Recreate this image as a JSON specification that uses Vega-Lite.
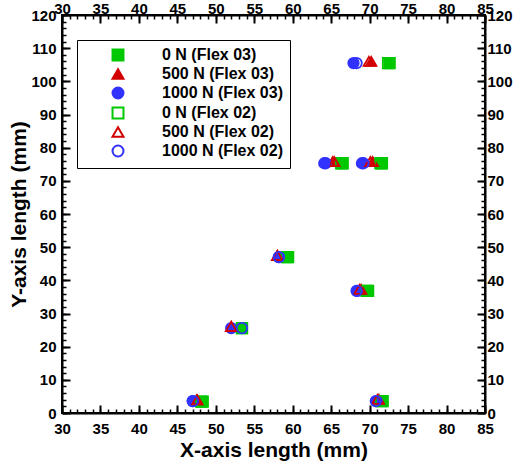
{
  "$schema": "https://vega.github.io/schema/vega-lite/v6.json",
  "width": 423,
  "height": 398,
  "autosize": "none",
  "padding": {"left": 62, "top": 15, "right": 40, "bottom": 55},
  "background": "white",
  "data": {"values": [
    {"s": "0 N (Flex 03)", "x": 72.6, "y": 105.5},
    {"s": "0 N (Flex 03)", "x": 66.5, "y": 75.3},
    {"s": "0 N (Flex 03)", "x": 71.6, "y": 75.3},
    {"s": "0 N (Flex 03)", "x": 59.4, "y": 47.0},
    {"s": "0 N (Flex 03)", "x": 69.8, "y": 36.8},
    {"s": "0 N (Flex 03)", "x": 53.4, "y": 25.6},
    {"s": "0 N (Flex 03)", "x": 48.3, "y": 3.4},
    {"s": "0 N (Flex 03)", "x": 71.7, "y": 3.6},
    {"s": "500 N (Flex 03)", "x": 70.2, "y": 106},
    {"s": "500 N (Flex 03)", "x": 65.2, "y": 75.8},
    {"s": "500 N (Flex 03)", "x": 70.4, "y": 75.8},
    {"s": "500 N (Flex 03)", "x": 58.0, "y": 47.5},
    {"s": "500 N (Flex 03)", "x": 68.9, "y": 37.3},
    {"s": "500 N (Flex 03)", "x": 52.0, "y": 26.1},
    {"s": "500 N (Flex 03)", "x": 47.5, "y": 4.0},
    {"s": "500 N (Flex 03)", "x": 71.2, "y": 4.1},
    {"s": "1000 N (Flex 03)", "x": 67.9, "y": 105.5},
    {"s": "1000 N (Flex 03)", "x": 64.3, "y": 75.3},
    {"s": "1000 N (Flex 03)", "x": 69.0, "y": 75.3},
    {"s": "1000 N (Flex 03)", "x": 58.2, "y": 47.0},
    {"s": "1000 N (Flex 03)", "x": 68.4, "y": 36.8},
    {"s": "1000 N (Flex 03)", "x": 52.0, "y": 25.6},
    {"s": "1000 N (Flex 03)", "x": 47.0, "y": 3.6},
    {"s": "1000 N (Flex 03)", "x": 70.9, "y": 3.6},
    {"s": "0 N (Flex 02)", "x": 72.4, "y": 105.5},
    {"s": "0 N (Flex 02)", "x": 66.3, "y": 75.3},
    {"s": "0 N (Flex 02)", "x": 71.4, "y": 75.3},
    {"s": "0 N (Flex 02)", "x": 59.2, "y": 47.0},
    {"s": "0 N (Flex 02)", "x": 69.6, "y": 36.8},
    {"s": "0 N (Flex 02)", "x": 53.4, "y": 25.6},
    {"s": "0 N (Flex 02)", "x": 48.1, "y": 3.4},
    {"s": "0 N (Flex 02)", "x": 71.5, "y": 3.6},
    {"s": "500 N (Flex 02)", "x": 69.9, "y": 106},
    {"s": "500 N (Flex 02)", "x": 65.4, "y": 75.8},
    {"s": "500 N (Flex 02)", "x": 70.1, "y": 75.8},
    {"s": "500 N (Flex 02)", "x": 58.0, "y": 47.5},
    {"s": "500 N (Flex 02)", "x": 68.7, "y": 37.3},
    {"s": "500 N (Flex 02)", "x": 52.0, "y": 26.1},
    {"s": "500 N (Flex 02)", "x": 47.6, "y": 4.0},
    {"s": "500 N (Flex 02)", "x": 71.0, "y": 4.1},
    {"s": "1000 N (Flex 02)", "x": 68.3, "y": 105.5},
    {"s": "1000 N (Flex 02)", "x": 64.1, "y": 75.3},
    {"s": "1000 N (Flex 02)", "x": 69.2, "y": 75.3},
    {"s": "1000 N (Flex 02)", "x": 58.2, "y": 47.0},
    {"s": "1000 N (Flex 02)", "x": 68.3, "y": 36.8},
    {"s": "1000 N (Flex 02)", "x": 53.4, "y": 25.6},
    {"s": "1000 N (Flex 02)", "x": 47.0, "y": 3.6},
    {"s": "1000 N (Flex 02)", "x": 70.8, "y": 3.6}
  ]},
  "layer": [
    {
      "mark": {"type": "point", "strokeWidth": 1.8, "opacity": 1},
      "encoding": {
        "x": {"field": "x", "type": "quantitative", "scale": {"domain": [30, 85], "nice": false, "zero": false},
              "axis": {"orient": "bottom", "values": [30,35,40,45,50,55,60,65,70,75,80,85], "tickSize": -8, "tickWidth": 2, "labelPadding": 16, "title": "X-axis length (mm)", "titlePadding": 3}},
        "y": {"field": "y", "type": "quantitative", "scale": {"domain": [0, 120], "nice": false, "zero": false},
              "axis": {"orient": "left", "values": [0,10,20,30,40,50,60,70,80,90,100,110,120], "tickSize": -8, "tickWidth": 2, "labelPadding": 14, "title": "Y-axis length (mm)", "titlePadding": 1}},
        "fill": {"field": "s", "type": "nominal", "sort": null,
                 "scale": {"domain": ["0 N (Flex 03)", "500 N (Flex 03)", "1000 N (Flex 03)", "0 N (Flex 02)", "500 N (Flex 02)", "1000 N (Flex 02)"],
                           "range": ["#00c800", "#d20000", "#3232ff", "transparent", "transparent", "transparent"]},
                 "legend": {"title": null, "orient": "none", "legendX": 15, "legendY": 25}},
        "stroke": {"field": "s", "type": "nominal", "sort": null,
                   "scale": {"domain": ["0 N (Flex 03)", "500 N (Flex 03)", "1000 N (Flex 03)", "0 N (Flex 02)", "500 N (Flex 02)", "1000 N (Flex 02)"],
                             "range": ["#00c800", "#d20000", "#3232ff", "#00c800", "#d20000", "#3232ff"]},
                   "legend": {"title": null, "orient": "none", "legendX": 15, "legendY": 25}},
        "shape": {"field": "s", "type": "nominal", "sort": null,
                  "scale": {"domain": ["0 N (Flex 03)", "500 N (Flex 03)", "1000 N (Flex 03)", "0 N (Flex 02)", "500 N (Flex 02)", "1000 N (Flex 02)"],
                            "range": ["square", "triangle-up", "circle", "square", "triangle-up", "circle"]},
                  "legend": {"title": null, "orient": "none", "legendX": 15, "legendY": 25}},
        "size": {"value": 110}
      }
    },
    {
      "mark": {"type": "point", "opacity": 0},
      "encoding": {
        "x": {"field": "x", "type": "quantitative", "scale": {"domain": [30, 85], "nice": false, "zero": false},
              "axis": {"orient": "top", "values": [30,35,40,45,50,55,60,65,70,75,80,85], "tickSize": -8, "tickWidth": 2, "labelPadding": 7, "title": null}},
        "y": {"field": "y", "type": "quantitative", "scale": {"domain": [0, 120], "nice": false, "zero": false},
              "axis": {"orient": "right", "values": [0,10,20,30,40,50,60,70,80,90,100,110,120], "tickSize": -8, "tickWidth": 2, "labelPadding": 10, "title": null}}
      }
    },
    {
      "mark": {"type": "point", "opacity": 0},
      "encoding": {
        "x": {"field": "x", "type": "quantitative", "scale": {"domain": [30, 85], "nice": false, "zero": false},
              "axis": {"orient": "bottom", "values": [30,31,32,33,34,35,36,37,38,39,40,41,42,43,44,45,46,47,48,49,50,51,52,53,54,55,56,57,58,59,60,61,62,63,64,65,66,67,68,69,70,71,72,73,74,75,76,77,78,79,80,81,82,83,84,85], "tickSize": -4, "tickWidth": 1.5, "labels": false, "domain": false, "title": null}},
        "y": {"field": "y", "type": "quantitative", "scale": {"domain": [0, 120], "nice": false, "zero": false},
              "axis": {"orient": "left", "values": [0,2,4,6,8,10,12,14,16,18,20,22,24,26,28,30,32,34,36,38,40,42,44,46,48,50,52,54,56,58,60,62,64,66,68,70,72,74,76,78,80,82,84,86,88,90,92,94,96,98,100,102,104,106,108,110,112,114,116,118,120], "tickSize": -4, "tickWidth": 1.5, "labels": false, "domain": false, "title": null}}
      }
    },
    {
      "mark": {"type": "point", "opacity": 0},
      "encoding": {
        "x": {"field": "x", "type": "quantitative", "scale": {"domain": [30, 85], "nice": false, "zero": false},
              "axis": {"orient": "top", "values": [30,31,32,33,34,35,36,37,38,39,40,41,42,43,44,45,46,47,48,49,50,51,52,53,54,55,56,57,58,59,60,61,62,63,64,65,66,67,68,69,70,71,72,73,74,75,76,77,78,79,80,81,82,83,84,85], "tickSize": -4, "tickWidth": 1.5, "labels": false, "domain": false, "title": null}},
        "y": {"field": "y", "type": "quantitative", "scale": {"domain": [0, 120], "nice": false, "zero": false},
              "axis": {"orient": "right", "values": [0,2,4,6,8,10,12,14,16,18,20,22,24,26,28,30,32,34,36,38,40,42,44,46,48,50,52,54,56,58,60,62,64,66,68,70,72,74,76,78,80,82,84,86,88,90,92,94,96,98,100,102,104,106,108,110,112,114,116,118,120], "tickSize": -4, "tickWidth": 1.5, "labels": false, "domain": false, "title": null}}
      }
    }
  ],
  "resolve": {"axis": {"x": "independent", "y": "independent"}},
  "config": {
    "view": {"stroke": "black", "strokeWidth": 2},
    "axis": {"grid": false, "labelFont": "Liberation Sans", "labelFontWeight": "bold", "labelFontSize": 15, "labelColor": "black",
             "titleFont": "Liberation Sans", "titleFontWeight": "bold", "titleFontSize": 21, "titleColor": "black",
             "domainColor": "black", "domainWidth": 2, "tickColor": "black", "labelFlush": false, "labelOverlap": false},
    "legend": {"labelFont": "Liberation Sans", "labelFontWeight": "bold", "labelFontSize": 16, "labelColor": "black",
               "strokeColor": "black", "strokeWidth": 1, "fillColor": "white", "padding": 7, "symbolOffset": 26, "labelOffset": 36,
               "symbolSize": 120, "symbolStrokeWidth": 2, "rowPadding": 0, "labelLimit": 300}
  }
}
